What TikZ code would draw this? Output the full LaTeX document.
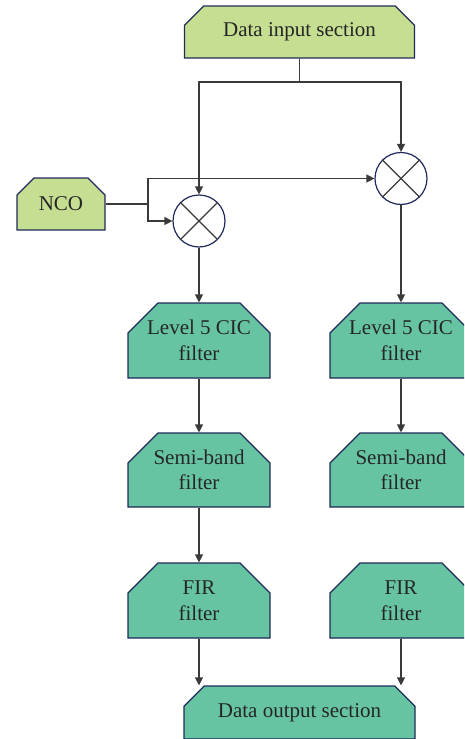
\documentclass[tikz,border=0pt]{standalone}
\usepackage{fontspec}
\setmainfont{Liberation Serif}
\usetikzlibrary{shapes.misc,arrows.meta}
\definecolor{lightg}{HTML}{C5DE91}
\definecolor{teal}{HTML}{66C4A3}
\definecolor{navy}{HTML}{1F2A5A}
\definecolor{linec}{HTML}{3A3A3A}
\tikzset{
  chbox/.style={chamfered rectangle, chamfered rectangle corners={north west,north east},
    draw=navy, line width=1.2pt, inner sep=0pt, align=center, text=black!85,
    font=\fontsize{21}{25.5}\selectfont},
  inbox/.style={chbox, fill=lightg, chamfered rectangle xsep=10pt, chamfered rectangle ysep=10pt},
  filt/.style={chbox, fill=teal, minimum width=142pt, minimum height=75pt,
    chamfered rectangle xsep=15pt, chamfered rectangle ysep=15pt},
  mixer/.style={circle, draw=navy, line width=1.2pt, fill=white, minimum size=52pt, inner sep=0pt},
  conn/.style={draw=linec, line width=1.3pt},
  arr/.style={conn, -{Triangle[length=8pt,width=8pt]}},
}
\begin{document}
\begin{tikzpicture}[x=1pt,y=-1pt]
\useasboundingbox (0,0) rectangle (464,739);
\clip (0,0) rectangle (464,739);
\node[inbox, minimum width=230pt, minimum height=52pt] (in) at (299.5,32) {Data input section};
\node[inbox, minimum width=88pt, minimum height=52pt] (nco) at (61,204) {NCO};
\node[mixer] (mixL) at (199,221) {};
\node[mixer] (mixR) at (401,178.5) {};
\draw[linec, line width=1.2pt] (mixL.north east) -- (mixL.south west) (mixL.north west) -- (mixL.south east);
\draw[linec, line width=1.2pt] (mixR.north east) -- (mixR.south west) (mixR.north west) -- (mixR.south east);
\node[filt] (cicL) at (199,340.5) {Level 5 CIC\\filter};
\node[filt, minimum height=74pt] (sbL) at (199,470) {Semi-band\\filter};
\node[filt] (firL) at (199,600.5) {FIR\\filter};
\node[filt] (cicR) at (401,340.5) {Level 5 CIC\\filter};
\node[filt, minimum height=74pt] (sbR) at (401,470) {Semi-band\\filter};
\node[filt] (firR) at (401,600.5) {FIR\\filter};
\node[chbox, fill=teal, minimum width=231pt, minimum height=53pt,
  chamfered rectangle xsep=11pt, chamfered rectangle ysep=11pt] (out) at (299.5,712.5) {Data output section};
\coordinate (j) at (299.5,82);
\coordinate (k) at (148,204);
\draw[conn] (in.south) -- (j);
\draw[arr] (j) -| (mixL.north);
\draw[arr] (j) -| (mixR.north);
\draw[conn] (nco.east) -- (k);
\draw[arr] (k) |- (mixR.west);
\draw[arr] (k) |- (mixL.west);
\draw[arr] (mixL.south) -- (cicL.north);
\draw[arr] (cicL.south) -- (sbL.north);
\draw[arr] (sbL.south) -- (firL.north);
\draw[arr] (firL.south) -- (firL.south |- out.north);
\draw[arr] (mixR.south) -- (cicR.north);
\draw[arr] (cicR.south) -- (sbR.north);
\draw[arr] (firR.south) -- (firR.south |- out.north);
\end{tikzpicture}
\end{document}
